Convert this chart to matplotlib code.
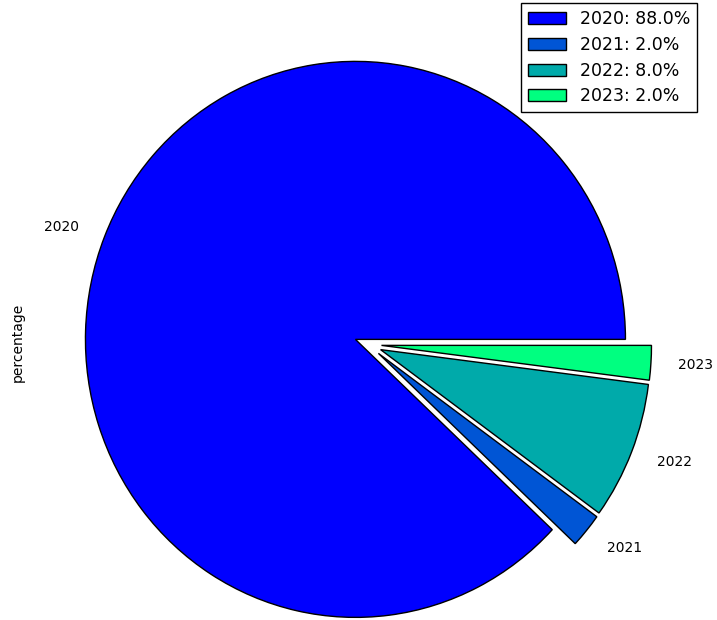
import numpy as np
import matplotlib
matplotlib.use("Agg")
import matplotlib.pyplot as plt

years = ["2020", "2021", "2022", "2023"]
percentage = [88.0, 2.0, 8.0, 2.0]
explode = [0.05, 0.05, 0.05, 0.05]

colors = plt.cm.winter(np.linspace(0, 1, len(years)))

fig = plt.figure(figsize=(7.17, 6.2), dpi=100)
ax = fig.add_axes([40 / 717, 0, 677 / 717, 1])

wedges, texts = ax.pie(percentage, labels=years, colors=colors, explode=explode,
                       startangle=0, counterclock=True, labeldistance=1.1,
                       wedgeprops=dict(edgecolor="black", linewidth=1.0),
                       textprops=dict(fontsize=10))

# pie is slightly taller than wide in the reference
rx, ry = 270.0, 278.0
cx, cy = 368.0, 344.5
ax.set_xlim((40 - cx) / rx, (717 - cx) / rx)
ax.set_ylim((cy - 620) / ry, cy / ry)
ax.set_aspect("auto")
ax.set_xticks([])
ax.set_yticks([])
for s in ax.spines.values():
    s.set_visible(False)

ax.set_ylabel("percentage", fontsize=10)
ax.yaxis.set_label_coords(-0.022, 0.447)

legend_labels = [f"{y}: {p:.1f}%" for y, p in zip(years, percentage)]
leg = ax.legend(wedges, legend_labels, loc="upper right",
                bbox_to_anchor=(0.972, 0.995), bbox_transform=fig.transFigure,
                fontsize=12.5, fancybox=False, framealpha=1, edgecolor="black",
                borderaxespad=0, handlelength=2.2, labelspacing=0.45)
leg.get_frame().set_linewidth(1.0)

fig.savefig("out.png", dpi=100)
